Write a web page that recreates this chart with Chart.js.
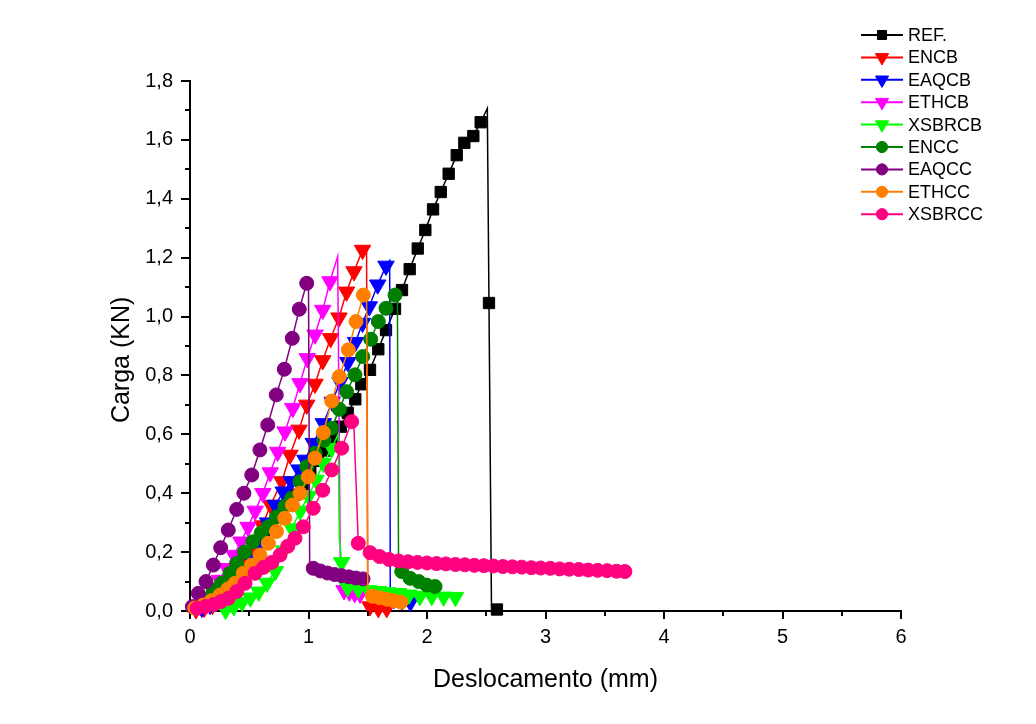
<!DOCTYPE html>
<html><head><meta charset="utf-8">
<script src="https://cdn.jsdelivr.net/npm/chart.js@4/dist/chart.umd.min.js"></script>
<style>html,body{margin:0;padding:0;background:#fff}canvas{display:block}</style>
</head><body>
<canvas id="c" width="1036" height="724"></canvas>
<script>
// ---- data ----
const seriesNames = ['REF.','ENCB','EAQCB','ETHCB','XSBRCB','ENCC','EAQCC','ETHCC','XSBRCC'];
const xTickLabels = ['0','1','2','3','4','5','6'];
const yTickLabels = ['0,0','0,2','0,4','0,6','0,8','1,0','1,2','1,4','1,6','1,8'];
const xTitle = 'Deslocamento (mm)';
const yTitle = 'Carga (KN)';

// rising part (marked), break (unmarked peak/drop), tail (marked)
const REF_rise = [[0.08,0.015],[0.14,0.03],[0.20,0.05],[0.26,0.075],[0.32,0.105],[0.38,0.135],[0.44,0.165],[0.50,0.195],[0.56,0.225],[0.625,0.26],[0.69,0.29],[0.755,0.325],[0.82,0.36],[0.885,0.395],[0.95,0.43],[1.015,0.47],[1.08,0.51],[1.145,0.545],[1.21,0.585],[1.272,0.626],[1.331,0.673],[1.395,0.719],[1.446,0.770],[1.519,0.819],[1.589,0.889],[1.654,0.954],[1.730,1.026],[1.789,1.090],[1.854,1.161],[1.922,1.231],[1.986,1.294],[2.051,1.364],[2.116,1.423],[2.183,1.485],[2.251,1.548],[2.315,1.590],[2.391,1.613],[2.453,1.660]];
const REF_break = [[2.509,1.707]];
const REF_tail = [[2.523,1.046]];
const REF_break2 = [[2.544,0.02]];
const REF_tail2 = [[2.59,0.005]];

const ENCB_rise = [[0.05,0.005],[0.12,0.01],[0.19,0.02],[0.26,0.04],[0.33,0.07],[0.40,0.11],[0.47,0.16],[0.54,0.22],[0.61,0.29],[0.68,0.36],[0.775,0.44],[0.844,0.53],[0.92,0.615],[0.985,0.70],[1.055,0.771],[1.12,0.851],[1.187,0.926],[1.257,0.996],[1.321,1.084],[1.384,1.153],[1.456,1.226]];
const ENCB_break = [[1.49,1.23],[1.50,0.05]];
const ENCB_tail = [[1.519,0.015],[1.589,0.009],[1.66,0.009]];

const EAQCB_rise = [[0.10,0.01],[0.17,0.02],[0.24,0.04],[0.31,0.065],[0.38,0.095],[0.45,0.13],[0.52,0.175],[0.59,0.23],[0.655,0.30],[0.72,0.36],[0.787,0.405],[0.855,0.44],[0.92,0.48],[0.97,0.513],[1.04,0.57],[1.125,0.637],[1.2,0.71],[1.266,0.777],[1.332,0.845],[1.397,0.913],[1.456,0.978],[1.513,1.034],[1.584,1.108],[1.654,1.172]];
const EAQCB_break = [[1.685,1.19],[1.69,0.05]];
const EAQCB_tail = [[1.72,0.04],[1.79,0.035],[1.86,0.03]];

const ETHCB_rise = [[0.07,0.02],[0.13,0.04],[0.19,0.07],[0.25,0.105],[0.31,0.145],[0.37,0.19],[0.43,0.235],[0.49,0.285],[0.55,0.34],[0.615,0.40],[0.677,0.47],[0.74,0.54],[0.802,0.609],[0.867,0.689],[0.928,0.773],[0.99,0.858],[1.055,0.938],[1.12,1.022],[1.181,1.119]];
const ETHCB_break = [[1.246,1.204],[1.27,0.08]];
const ETHCB_tail = [[1.30,0.07],[1.345,0.065],[1.39,0.06],[1.435,0.058]];

const XSBRCB_rise = [[0.30,0.003],[0.37,0.015],[0.44,0.03],[0.51,0.045],[0.58,0.065],[0.65,0.095],[0.72,0.135],[0.79,0.205],[0.86,0.28],[0.93,0.34],[1.00,0.39],[1.063,0.445],[1.125,0.502],[1.196,0.553]];
const XSBRCB_break = [[1.25,0.60],[1.26,0.25]];
const XSBRCB_tail = [[1.28,0.165],[1.33,0.08],[1.42,0.075],[1.51,0.07],[1.59,0.067],[1.67,0.063],[1.76,0.06],[1.848,0.055],[1.94,0.05],[2.04,0.05],[2.14,0.048],[2.24,0.047]];

const ENCC_rise = [[0.05,0.01],[0.12,0.04],[0.197,0.071],[0.267,0.094],[0.338,0.128],[0.394,0.162],[0.46,0.20],[0.53,0.235],[0.60,0.265],[0.661,0.286],[0.73,0.32],[0.80,0.355],[0.858,0.383],[0.928,0.439],[0.985,0.49],[1.055,0.536],[1.13,0.58],[1.196,0.621],[1.26,0.685],[1.322,0.745],[1.392,0.802],[1.457,0.864],[1.525,0.923],[1.589,0.983],[1.654,1.028],[1.73,1.073]];
const ENCC_break = [[1.75,1.08],[1.76,0.15]];
const ENCC_tail = [[1.787,0.134],[1.857,0.111],[1.93,0.10],[1.997,0.088],[2.068,0.083]];

const EAQCC_rise = [[0.02,0.015],[0.07,0.06],[0.135,0.10],[0.197,0.156],[0.259,0.215],[0.323,0.275],[0.394,0.345],[0.455,0.40],[0.521,0.462],[0.59,0.547],[0.656,0.632],[0.728,0.734],[0.796,0.821],[0.863,0.926],[0.922,1.025],[0.985,1.113]];
const EAQCC_break = [[1.0,1.12],[1.01,0.16]];
const EAQCC_tail = [[1.04,0.145],[1.10,0.136],[1.16,0.129],[1.22,0.124],[1.28,0.12],[1.34,0.116],[1.40,0.112],[1.46,0.109]];

const ETHCC_rise = [[0.04,0.01],[0.11,0.02],[0.18,0.035],[0.253,0.054],[0.32,0.075],[0.38,0.094],[0.45,0.128],[0.52,0.156],[0.59,0.19],[0.661,0.23],[0.73,0.27],[0.80,0.315],[0.865,0.36],[0.928,0.40],[0.998,0.456],[1.055,0.519],[1.125,0.606],[1.196,0.713],[1.26,0.796],[1.336,0.887],[1.401,0.983],[1.463,1.073]];
const ETHCC_break = [[1.49,1.08],[1.50,0.06]];
const ETHCC_tail = [[1.54,0.05],[1.60,0.045],[1.66,0.04],[1.72,0.035],[1.78,0.03]];

const XSBRCC_rise = [[0.06,0.009],[0.13,0.015],[0.20,0.022],[0.26,0.032],[0.323,0.043],[0.394,0.066],[0.464,0.094],[0.549,0.128],[0.62,0.148],[0.69,0.165],[0.76,0.19],[0.825,0.22],[0.886,0.247],[0.956,0.286],[1.04,0.349],[1.12,0.41],[1.196,0.479],[1.28,0.553],[1.364,0.643]];
const XSBRCC_break = [[1.38,0.66],[1.40,0.45]];
const XSBRCC_tail = [[1.42,0.23],[1.52,0.198],[1.60,0.185],[1.68,0.175],[1.76,0.170],[1.84,0.167],[1.92,0.165],[2.00,0.163],[2.08,0.161],[2.16,0.160],[2.24,0.158],[2.32,0.157],[2.40,0.155],[2.48,0.154],[2.56,0.153],[2.64,0.151],[2.72,0.150],[2.80,0.149],[2.88,0.147],[2.96,0.146],[3.04,0.145],[3.12,0.143],[3.20,0.142],[3.28,0.141],[3.36,0.139],[3.44,0.138],[3.52,0.137],[3.60,0.135],[3.67,0.134]];

// ---- styles ----
const colors = ['#000000','#FF0000','#0000FF','#FF00FF','#00FF00','#008000','#800080','#FF8000','#FF0080'];
const styles = ['rect','triangle','triangle','triangle','triangle','circle','circle','circle','circle'];
const radii  = [8, 9.5, 9.5, 9.5, 9.5, 7, 7, 7, 7];
const rots   = [0, 180, 180, 180, 180, 0, 0, 0, 0];

const parts = [
  [REF_rise, REF_break, REF_tail, REF_break2, REF_tail2],
  [ENCB_rise, ENCB_break, ENCB_tail],
  [EAQCB_rise, EAQCB_break, EAQCB_tail],
  [ETHCB_rise, ETHCB_break, ETHCB_tail],
  [XSBRCB_rise, XSBRCB_break, XSBRCB_tail],
  [ENCC_rise, ENCC_break, ENCC_tail],
  [EAQCC_rise, EAQCC_break, EAQCC_tail],
  [ETHCC_rise, ETHCC_break, ETHCC_tail],
  [XSBRCC_rise, XSBRCC_break, XSBRCC_tail]
];

function build(p) {
  const out = [];
  p.forEach((seg, k) => seg.forEach(([x, y]) => out.push({x, y, m: k % 2 === 0})));
  return out;
}

const FONT = "'Liberation Sans', Arial, sans-serif";

const datasets = seriesNames.map((name, i) => ({
  label: name,
  data: build(parts[i]),
  borderColor: colors[i],
  backgroundColor: colors[i],
  borderWidth: 1.5,
  pointStyle: styles[i],
  rotation: rots[i],
  pointRadius: (c) => (c.raw && c.raw.m ? radii[i] : 0),
  pointHoverRadius: (c) => (c.raw && c.raw.m ? radii[i] : 0),
  pointBorderWidth: 1,
  tension: 0,
  clip: false,
  order: seriesNames.length - i
}));

const extras = {
  id: 'extras',
  afterDraw(chart) {
    const ctx = chart.ctx;
    const xs = chart.scales.x, ys = chart.scales.y;
    ctx.save();
    ctx.strokeStyle = '#000';
    ctx.lineWidth = 2;
    // minor ticks
    const xt = xs.ticks, yt = ys.ticks;
    for (let i = 0; i < xt.length - 1; i++) {
      const px = Math.round(xs.getPixelForValue((xt[i].value + xt[i+1].value) / 2));
      ctx.beginPath(); ctx.moveTo(px, xs.top); ctx.lineTo(px, xs.top + 5); ctx.stroke();
    }
    for (let i = 0; i < yt.length - 1; i++) {
      const py = Math.round(ys.getPixelForValue((yt[i].value + yt[i+1].value) / 2));
      ctx.beginPath(); ctx.moveTo(ys.right, py); ctx.lineTo(ys.right - 5, py); ctx.stroke();
    }
    // legend
    const lx0 = 861, lx1 = 903, mx = 882, tx = 908, y0 = 35, dy = 22.4;
    ctx.font = '18px ' + FONT;
    ctx.textBaseline = 'middle';
    ctx.textAlign = 'left';
    chart.data.datasets.forEach((ds, i) => {
      const y = y0 + i * dy;
      ctx.strokeStyle = ds.borderColor;
      ctx.fillStyle = ds.backgroundColor;
      ctx.lineWidth = 2;
      ctx.beginPath(); ctx.moveTo(lx0, y); ctx.lineTo(lx1, y); ctx.stroke();
      ctx.lineWidth = 1;
      Chart.helpers.drawPoint(ctx, {pointStyle: ds.pointStyle, rotation: ds.rotation, radius: radii[i] * 0.8, borderWidth: 1}, mx, y);
      ctx.fillStyle = '#000';
      ctx.fillText(ds.label, tx, y + 1);
    });
    ctx.restore();
  }
};

new Chart(document.getElementById('c'), {
  type: 'line',
  data: { datasets },
  options: {
    responsive: false,
    animation: false,
    events: [],
    layout: { padding: { top: 81, right: 135, left: 0, bottom: 0 } },
    plugins: { legend: { display: false }, tooltip: { enabled: false } },
    scales: {
      x: {
        type: 'linear', min: 0, max: 6,
        afterFit: (s) => { s.height = 113; },
        ticks: { stepSize: 1, padding: 6, color: '#000', font: { size: 20, family: FONT },
                 callback: (v) => xTickLabels[Math.round(v)] },
        grid: { drawOnChartArea: false, drawTicks: true, tickLength: 8, color: '#000', lineWidth: 2 },
        border: { display: true, color: '#000', width: 2 },
        title: { display: true, text: xTitle, color: '#000', font: { size: 25, family: FONT }, padding: { top: 0, bottom: 29 } }
      },
      y: {
        type: 'linear', min: 0, max: 1.8,
        afterFit: (s) => { s.width = 190; },
        ticks: { stepSize: 0.2, padding: 8, color: '#000', font: { size: 20, family: FONT },
                 callback: (v) => yTickLabels[Math.round(v / 0.2)] },
        grid: { drawOnChartArea: false, drawTicks: true, tickLength: 9, color: '#000', lineWidth: 2 },
        border: { display: true, color: '#000', width: 2 },
        title: { display: true, text: yTitle + '    ', color: '#000', font: { size: 25, family: FONT }, padding: { top: 107, bottom: 0 } }
      }
    }
  },
  plugins: [extras]
});
</script>
</body></html>
